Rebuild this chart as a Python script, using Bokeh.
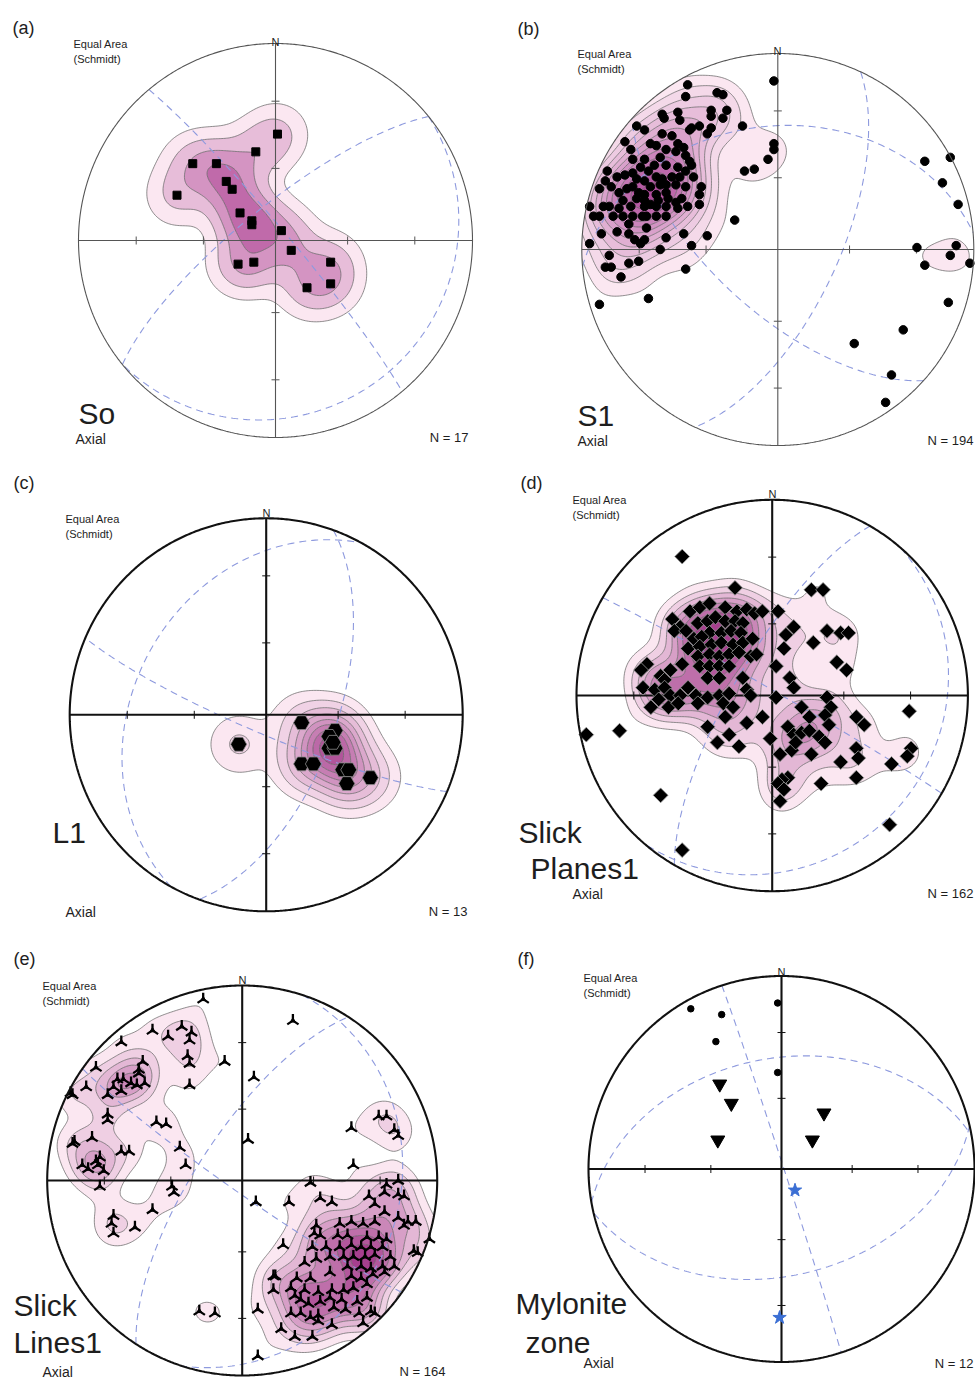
import numpy as np
from bokeh.plotting import figure
from bokeh.layouts import column, row
from bokeh.models import Range1d, Label
from bokeh.embed import file_html
from bokeh.resources import INLINE

FONT = "Liberation Sans"

# ---------------- data (equal-area net coordinates: east, north; net radius = 1) -------------
A_POLES = [(0.01, 0.54), (-0.10, 0.45), (-0.42, 0.39), (-0.30, 0.39), (-0.25, 0.30), (-0.22, 0.26),
           (-0.50, 0.23), (-0.18, 0.14), (-0.12, 0.10), (-0.12, 0.08), (0.03, 0.05), (0.08, -0.05),
           (-0.19, -0.12), (-0.11, -0.11), (0.28, -0.11), (0.16, -0.24), (0.28, -0.22)]

B_POLES = [(-0.46, 0.84), (-0.31, 0.80), (-0.28, 0.79), (-0.47, 0.78), (-0.34, 0.71), (-0.26, 0.71),
           (-0.51, 0.70), (-0.59, 0.69), (-0.58, 0.67), (-0.34, 0.68), (-0.28, 0.67), (-0.50, 0.66),
           (-0.72, 0.63), (-0.40, 0.63), (-0.44, 0.62), (-0.45, 0.61), (-0.68, 0.61), (-0.34, 0.62),
           (-0.36, 0.59), (-0.59, 0.59), (-0.54, 0.58), (-0.78, 0.55), (-0.65, 0.54), (-0.62, 0.53),
           (-0.51, 0.54), (-0.48, 0.52), (-0.52, 0.50), (-0.57, 0.51), (-0.75, 0.51), (-0.47, 0.48),
           (-0.45, 0.45), (-0.60, 0.47), (-0.68, 0.46), (-0.74, 0.46), (-0.63, 0.43), (-0.57, 0.43),
           (-0.51, 0.42), (-0.47, 0.40), (-0.44, 0.43), (-0.70, 0.42), (-0.66, 0.40), (-0.74, 0.39),
           (-0.78, 0.38), (-0.87, 0.40), (-0.82, 0.37), (-0.88, 0.35), (-0.72, 0.36), (-0.68, 0.35),
           (-0.62, 0.37), (-0.59, 0.36), (-0.54, 0.37), (-0.50, 0.37), (-0.43, 0.37), (-0.60, 0.33),
           (-0.57, 0.33), (-0.52, 0.33), (-0.65, 0.32), (-0.74, 0.32), (-0.77, 0.31), (-0.85, 0.32),
           (-0.91, 0.31), (-0.81, 0.29), (-0.71, 0.29), (-0.68, 0.28), (-0.62, 0.28), (-0.57, 0.29),
           (-0.47, 0.32), (-0.39, 0.32), (-0.40, 0.28), (-0.79, 0.25), (-0.72, 0.26), (-0.68, 0.25),
           (-0.65, 0.23), (-0.61, 0.25), (-0.56, 0.26), (-0.52, 0.24), (-0.49, 0.26), (-0.40, 0.23),
           (-0.96, 0.22), (-0.89, 0.22), (-0.86, 0.22), (-0.81, 0.21), (-0.75, 0.22), (-0.68, 0.22),
           (-0.62, 0.22), (-0.57, 0.22), (-0.51, 0.21), (-0.46, 0.22), (-0.94, 0.17), (-0.91, 0.17),
           (-0.84, 0.17), (-0.79, 0.17), (-0.74, 0.17), (-0.69, 0.17), (-0.67, 0.17), (-0.62, 0.17),
           (-0.57, 0.17), (-0.76, 0.13), (-0.67, 0.11), (-0.90, 0.08), (-0.82, 0.09), (-0.76, 0.08),
           (-0.48, 0.08), (-0.36, 0.07), (-0.57, 0.06), (-0.96, 0.03), (-0.73, 0.05), (-0.68, 0.05),
           (-0.70, 0.03), (-0.60, 0.00), (-0.44, 0.02), (-0.86, -0.03), (-0.71, -0.06), (-0.88, -0.09),
           (-0.85, -0.09), (-0.76, -0.07), (-0.47, -0.10), (-0.80, -0.14), (-0.91, -0.28), (-0.66, -0.25),
           (-0.22, 0.15), (-0.02, 0.86), (-0.02, 0.54), (-0.02, 0.51), (-0.05, 0.46), (-0.12, 0.41),
           (-0.17, 0.40), (-0.18, 0.63), (0.75, 0.45), (0.88, 0.47), (0.84, 0.34), (0.92, 0.23),
           (0.71, 0.01), (0.91, 0.02), (0.88, -0.03), (0.75, -0.08), (0.98, -0.07), (0.87, -0.27),
           (0.64, -0.41), (0.39, -0.48), (0.58, -0.64), (0.55, -0.78)]

C_LINEATIONS = [(-0.14, -0.15), (0.18, -0.04), (0.35, -0.08), (0.32, -0.11), (0.32, -0.17), (0.35, -0.17),
                (0.18, -0.25), (0.24, -0.25), (0.39, -0.28), (0.42, -0.28), (0.41, -0.35), (0.53, -0.32),
                (0.34, -0.14)]

D_POLES = [(-0.46, 0.71), (-0.19, 0.55), (0.20, 0.54), (0.26, 0.54), (0.03, 0.43), (0.11, 0.35),
           (0.07, 0.31), (0.06, 0.24), (0.21, 0.27), (0.28, 0.33), (0.35, 0.32), (0.39, 0.32),
           (0.33, 0.17), (0.38, 0.13), (0.02, 0.15), (0.09, 0.09), (0.11, 0.04), (0.02, -0.01),
           (0.28, -0.01), (0.30, -0.06), (0.15, -0.06), (0.19, -0.11), (0.27, -0.10), (0.29, -0.15),
           (0.08, -0.16), (0.11, -0.20), (0.15, -0.19), (0.19, -0.18), (0.24, -0.21), (0.27, -0.24),
           (0.04, -0.30), (0.10, -0.28), (0.20, -0.30), (0.12, -0.24), (0.43, -0.11), (0.47, -0.15),
           (0.43, -0.27), (0.44, -0.32), (0.35, -0.34), (0.43, -0.42), (0.25, -0.45), (0.08, -0.42),
           (0.05, -0.43), (0.03, -0.45), (0.06, -0.48), (0.04, -0.54), (0.70, -0.08), (0.71, -0.27),
           (0.69, -0.31), (0.61, -0.35), (0.60, -0.66), (-0.95, -0.20), (-0.78, -0.18), (-0.57, -0.51),
           (-0.46, -0.79), (-0.05, -0.11), (-0.01, -0.22), (-0.13, -0.14), (-0.17, -0.26), (-0.22, -0.20),
           (-0.28, -0.24), (-0.33, -0.16),
           (-0.51, 0.39), (-0.47, 0.35), (-0.42, 0.43), (-0.37, 0.45), (-0.32, 0.47), (-0.24, 0.45),
           (-0.18, 0.43), (-0.13, 0.44), (-0.09, 0.42), (-0.05, 0.43), (-0.50, 0.33), (-0.44, 0.33),
           (-0.38, 0.37), (-0.33, 0.38), (-0.29, 0.40), (-0.24, 0.38), (-0.19, 0.38), (-0.15, 0.37),
           (-0.32, 0.32), (-0.26, 0.32), (-0.21, 0.33), (-0.16, 0.32), (-0.40, 0.29), (-0.36, 0.30),
           (-0.43, 0.24), (-0.37, 0.25), (-0.31, 0.26), (-0.26, 0.27), (-0.20, 0.26), (-0.15, 0.27),
           (-0.10, 0.29), (-0.38, 0.20), (-0.32, 0.21), (-0.27, 0.20), (-0.22, 0.21), (-0.17, 0.22),
           (-0.11, 0.20), (-0.08, 0.21), (-0.64, 0.16), (-0.67, 0.13), (-0.46, 0.16), (-0.52, 0.13),
           (-0.37, 0.15), (-0.32, 0.15), (-0.27, 0.15), (-0.22, 0.15), (-0.33, 0.09), (-0.27, 0.09),
           (-0.57, 0.10), (-0.55, 0.08), (-0.15, 0.09), (-0.66, 0.04), (-0.60, 0.03), (-0.55, 0.04),
           (-0.43, 0.04), (-0.52, 0.00), (-0.47, 0.00), (-0.58, -0.02), (-0.39, 0.00), (-0.33, -0.01),
           (-0.27, 0.00), (-0.22, 0.01), (-0.13, 0.03), (-0.11, 0.00), (-0.62, -0.06), (-0.53, -0.06),
           (-0.48, -0.04), (-0.38, -0.04), (-0.25, -0.04), (-0.20, -0.06), (-0.24, -0.11)]

E_LINEATIONS = [(-0.20, 0.93), (0.26, 0.82), (-0.31, 0.79), (-0.46, 0.77), (-0.38, 0.74), (-0.26, 0.76),
                (-0.27, 0.72), (-0.62, 0.71), (-0.28, 0.64), (-0.27, 0.60), (-0.51, 0.61), (-0.75, 0.58),
                (-0.09, 0.61), (-0.27, 0.49), (0.06, 0.53), (-0.53, 0.57), (-0.53, 0.55), (-0.64, 0.52),
                (-0.61, 0.52), (-0.57, 0.50), (-0.54, 0.49), (-0.50, 0.50), (-0.66, 0.48), (-0.62, 0.46),
                (-0.69, 0.44), (-0.80, 0.48), (-0.87, 0.44), (-0.88, 0.45), (-0.69, 0.34), (-0.69, 0.31),
                (-0.44, 0.30), (-0.39, 0.29), (0.03, 0.21), (0.56, 0.27), (0.70, 0.33), (0.74, 0.33),
                (0.78, 0.26), (0.80, 0.23), (-0.86, 0.20), (-0.87, 0.19), (-0.77, 0.22), (-0.62, 0.15),
                (-0.58, 0.15), (-0.32, 0.17), (-0.29, 0.08), (-0.82, 0.08), (-0.79, 0.06), (-0.74, 0.08),
                (-0.71, 0.05), (-0.75, 0.10), (-0.73, 0.12), (-0.73, -0.03), (-0.36, -0.03), (-0.35, -0.06),
                (0.57, 0.08), (0.35, -0.01), (0.07, -0.11), (0.24, -0.11), (0.40, -0.09), (0.46, -0.11),
                (-0.46, -0.15), (-0.66, -0.18), (-0.67, -0.22), (-0.55, -0.24), (-0.66, -0.27),
                (0.21, -0.33), (-0.22, -0.67), (-0.14, -0.68), (0.08, -0.66), (0.08, -0.90), (0.96, -0.30),
                (0.90, -0.37), (0.16, -0.49), (0.16, -0.56), (0.20, -0.76), (0.27, -0.80), (0.36, -0.80),
                (0.74, -0.02), (0.80, 0.00), (0.73, -0.06), (0.80, -0.07), (0.83, -0.08), (0.65, -0.08),
                (0.68, -0.12), (0.73, -0.16), (0.80, -0.19), (0.85, -0.21), (0.89, -0.21), (0.83, -0.23),
                (0.88, -0.36), (0.38, -0.23), (0.50, -0.22), (0.56, -0.21), (0.62, -0.22), (0.68, -0.21),
                (0.37, -0.27), (0.40, -0.28), (0.49, -0.28), (0.54, -0.28), (0.64, -0.29), (0.70, -0.29),
                (0.74, -0.30), (0.36, -0.34), (0.43, -0.34), (0.50, -0.34), (0.56, -0.33), (0.61, -0.34),
                (0.66, -0.34), (0.72, -0.34), (0.32, -0.42), (0.38, -0.40), (0.45, -0.39), (0.52, -0.39),
                (0.57, -0.39), (0.63, -0.39), (0.68, -0.38), (0.76, -0.39), (0.54, -0.44), (0.61, -0.44),
                (0.66, -0.45), (0.72, -0.44), (0.78, -0.44), (0.45, -0.47), (0.56, -0.49), (0.61, -0.50),
                (0.67, -0.48), (0.73, -0.47), (0.17, -0.49), (0.28, -0.50), (0.35, -0.50), (0.25, -0.55),
                (0.32, -0.56), (0.39, -0.57), (0.46, -0.56), (0.52, -0.56), (0.57, -0.55), (0.64, -0.53),
                (0.27, -0.59), (0.30, -0.61), (0.34, -0.63), (0.40, -0.62), (0.45, -0.60), (0.51, -0.61),
                (0.59, -0.62), (0.64, -0.60), (0.25, -0.68), (0.30, -0.68), (0.35, -0.70), (0.39, -0.69),
                (0.47, -0.65), (0.53, -0.66), (0.60, -0.68), (0.66, -0.67), (0.39, -0.72), (0.46, -0.74),
                (0.62, -0.73), (0.68, -0.68)]

F_DOTS = [(-0.47, 0.83), (-0.31, 0.80), (-0.02, 0.86), (-0.34, 0.66), (-0.02, 0.50)]
F_TRIANGLES = [(-0.32, 0.44), (-0.26, 0.34), (-0.33, 0.15), (0.22, 0.29), (0.16, 0.15)]
F_STARS = [(0.07, -0.11), (-0.01, -0.77)]

# great circles: (dip direction, dip) in degrees
A_PLANES = [(141, 13), (321, 76), (50, 85)]
B_PLANES = [(115, 65), (355, 37), (222, 64)]
C_PLANES = [(110, 61), (203, 82), (299, 33)]
D_PLANES = [(300, 74), (131, 15), (30, 88)]
E_PLANES = [(108, 20), (303, 71), (215, 85)]
F_PLANES = [(72, 89), (350, 42), (167, 44)]

PANEL_LETTERS = ["(a)", "(b)", "(c)", "(d)", "(e)", "(f)"]
PANEL_NAMES = [["So"], ["S1"], ["L1"], ["Slick", "Planes1"], ["Slick", "Lines1"], ["Mylonite", "zone"]]
N_LABELS = ["N = 17", "N = 194", "N = 13", "N = 162", "N = 164", "N = 12"]
TICK_PLUNGES = [30, 60]

# ---------------- helpers ----------------
W_L, W_R = 487, 488
ROW_H = [462, 463, 453]
ROW_TOP = [0, 462, 925]
LIGHT, DARK = "#fbe7f1", "#a63f8e"


def ramp(n, dark=DARK):
    c1 = np.array([int(LIGHT[i:i + 2], 16) for i in (1, 3, 5)], float)
    c2 = np.array([int(dark[i:i + 2], 16) for i in (1, 3, 5)], float)
    out = []
    for t in np.linspace(0, 1, n):
        c = c1 + (c2 - c1) * t
        out.append("#%02x%02x%02x" % tuple(int(round(v)) for v in c))
    return out


def great_circle(dipdir, dip, n=241):
    t = np.linspace(0, np.pi, n)
    dd, d = np.radians(dipdir), np.radians(dip)
    s = dd - np.pi / 2
    north = np.cos(t) * np.cos(s) + np.sin(t) * np.cos(d) * np.cos(dd)
    east = np.cos(t) * np.sin(s) + np.sin(t) * np.cos(d) * np.sin(dd)
    down = np.clip(np.sin(t) * np.sin(d), 0, 1)
    h = np.hypot(north, east)
    h[h < 1e-9] = 1e-9
    rho = np.sqrt(1 - down)
    return rho * east / h, rho * north / h


def make_panel(fig_left, rowi, W, cx, cy, r, strong):
    fig_top, H = ROW_TOP[rowi], ROW_H[rowi]
    lx, ly = cx - fig_left, cy - fig_top
    p = figure(width=W, height=H, x_range=Range1d(-lx / r, (W - lx) / r),
               y_range=Range1d(-(H - ly) / r, ly / r), output_backend="svg",
               toolbar_location=None, min_border=0, x_axis_location=None, y_axis_location=None)
    p.grid.visible = False
    p.outline_line_color = None
    p.background_fill_color = "white"
    p.border_fill_color = "white"
    p._geo = (cx, cy, r, strong)
    return p


def lab(p, text, px, py, size, align="left"):
    cx, cy, r, _ = p._geo
    p.add_layout(Label(x=(px - cx) / r, y=(cy - py) / r, text=text, text_font=FONT,
                       text_font_size=f"{size}px", text_align=align, text_baseline="alphabetic",
                       text_color="#1e1e1e"))


def density(p, pts, sigma, levels, dark=DARK):
    g = np.linspace(-1.04, 1.04, 261)
    X, Y = np.meshgrid(g, g)
    Z = np.zeros_like(X)
    for e, n in pts:
        Z += np.exp(-((X - e) ** 2 + (Y - n) ** 2) / (2 * sigma * sigma))
    p.contour(X, Y, Z, levels, fill_color=ramp(len(levels) - 1, dark),
              line_color="#5e5e5e", line_width=0.7)


def frame(p, planes):
    cx, cy, r, strong = p._geo
    th = np.linspace(0, 2 * np.pi, 721)
    big = 6.0
    p.multi_polygons(xs=[[[[-big, big, big, -big], list(np.cos(th))]]],
                     ys=[[[[-big, -big, big, big], list(np.sin(th))]]],
                     fill_color="white", line_color=None)
    for dd, dip in planes:
        gx, gy = great_circle(dd, dip)
        p.line(gx, gy, line_color="#8e9ade", line_dash="7 5", line_width=1.1)
    col = "#111111" if strong else "#555555"
    lw = 2.1 if strong else 1.1
    p.segment(x0=[-1, 0], y0=[0, -1], x1=[1, 0], y1=[0, 1], line_color=col, line_width=lw)
    rr = [np.sqrt(1 - np.sin(np.radians(pl))) for pl in TICK_PLUNGES]
    tl = 4.0 / r
    x0, y0, x1, y1 = [], [], [], []
    for v in rr:
        for sgn in (-1, 1):
            x0 += [sgn * v, -tl]
            y0 += [-tl, sgn * v]
            x1 += [sgn * v, tl]
            y1 += [tl, sgn * v]
    p.segment(x0=x0, y0=y0, x1=x1, y1=y1, line_color=col, line_width=1.0)
    return col, lw


def primitive(p, col, lw):
    th = np.linspace(0, 2 * np.pi, 721)
    p.line(np.cos(th), np.sin(th), line_color=col, line_width=lw)


def texts(p, i, letter_xy, ea_xy, n_xy, name_xy, axial_xy, nlab_xy):
    lab(p, PANEL_LETTERS[i], letter_xy[0], letter_xy[1], 18)
    lab(p, "Equal Area", ea_xy[0], ea_xy[1], 11)
    lab(p, "(Schmidt)", ea_xy[0], ea_xy[1] + 15, 11)
    lab(p, "N", n_xy[0], n_xy[1], 11, "center")
    for t, (x, y) in zip(PANEL_NAMES[i], name_xy):
        lab(p, t, x, y, 30)
    lab(p, "Axial", axial_xy[0], axial_xy[1], 14)
    lab(p, N_LABELS[i], nlab_xy[0], nlab_xy[1], 13, "right")


def unzip(pts):
    return [a for a, _ in pts], [b for _, b in pts]


# ---------------- panel (a) ----------------
pa = make_panel(0, 0, W_L, 275, 240, 197, False)
density(pa, A_POLES, 0.1, [0.33, 0.9, 1.7, 2.6, 99], dark="#c06aaa")
col, lw = frame(pa, A_PLANES)
x, y = unzip(A_POLES)
pa.scatter(x, y, marker="square", size=8, fill_color="black", line_color="black")
primitive(pa, col, lw)
texts(pa, 0, (12, 27), (73, 43), (275, 41), [(78, 413)], (75, 438), (468, 437))

# ---------------- panel (b) ----------------
pb = make_panel(487, 0, W_R, 777.3, 249, 196, False)
density(pb, B_POLES, 0.095, [2.3, 4, 6, 8, 10, 12, 14, 16, 18, 20, 22, 24, 99], dark="#b04d9d")
col, lw = frame(pb, B_PLANES)
x, y = unzip(B_POLES)
pb.scatter(x, y, marker="circle", size=8.5, fill_color="black", line_color="black")
primitive(pb, col, lw)
texts(pb, 1, (517, 28), (577, 53), (777, 50), [(577, 415)], (577, 440), (973, 440))

# ---------------- panel (c) ----------------
pc = make_panel(0, 1, W_L, 265.7, 714.3, 196.5, True)
density(pc, C_LINEATIONS, 0.1, [0.37, 0.9, 1.6, 2.4, 3.2, 4.0, 4.8, 5.6, 6.4, 99])
col, lw = frame(pc, C_PLANES)
x, y = unzip(C_LINEATIONS)
pc.scatter(x, y, marker="hex", size=16, fill_color="black", line_color="#8a8a8a", line_width=0.8)
primitive(pc, col, lw)
texts(pc, 2, (13, 482), (65, 518), (266, 512), [(52, 832)], (65, 911), (467, 911))

# ---------------- panel (d) ----------------
pd_ = make_panel(487, 1, W_R, 771.7, 695, 195.7, True)
density(pd_, D_POLES, 0.09, [2.0, 3.5, 5, 6.5, 8, 9.5, 11, 12.5, 99])
col, lw = frame(pd_, D_PLANES)
x, y = unzip(D_POLES)
pd_.scatter(x, y, marker="square", angle=np.pi / 4, size=10.5, fill_color="black",
            line_color="#9a9a9a", line_width=0.8)
primitive(pd_, col, lw)
texts(pd_, 3, (520, 482), (572, 499), (772, 493), [(518, 832), (530, 868)], (572, 893), (973, 893))

# ---------------- panel (e) ----------------
pe = make_panel(0, 2, W_L, 241.7, 1180, 195, True)
density(pe, E_LINEATIONS, 0.08, [1.45, 2.8, 4.2, 5.6, 7.0, 8.4, 9.8, 11.2, 99])
col, lw = frame(pe, E_PLANES)
x, y = unzip(E_LINEATIONS)
pe.scatter(x, y, marker="triangle", size=5, fill_color="black", line_color="black")
pe.scatter(x, y, marker="y", angle=np.pi, size=13, line_color="black", line_width=2.3)
primitive(pe, col, lw)
texts(pe, 4, (13, 958), (42, 985), (242, 979), [(13, 1305), (13, 1342)], (42, 1371), (445, 1371))

# ---------------- panel (f) ----------------
pf = make_panel(487, 2, W_R, 781, 1168.5, 193, True)
col, lw = frame(pf, F_PLANES)
x, y = unzip(F_DOTS)
pf.scatter(x, y, marker="circle", size=6.5, fill_color="black", line_color="black")
x, y = unzip(F_TRIANGLES)
pf.scatter(x, y, marker="inverted_triangle", size=14, fill_color="black", line_color="black")
x, y = unzip(F_STARS)
pf.scatter(x, y, marker="star", size=14, fill_color="#3b6fd4", line_color="#3b6fd4")
primitive(pf, col, lw)
texts(pf, 5, (517, 958), (583, 977), (781, 971), [(515, 1303), (525, 1342)], (583, 1362), (973, 1363))

layout = column(row(pa, pb), row(pc, pd_), row(pe, pf))
open("out.html", "w").write(file_html(layout, INLINE))
